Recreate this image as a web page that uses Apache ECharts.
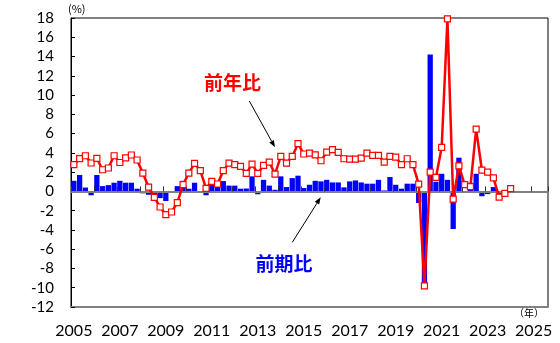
<!DOCTYPE html>
<html>
<head>
<meta charset="utf-8">
<script src="https://cdn.jsdelivr.net/npm/echarts@6/dist/echarts.min.js"></script>
<style>
html,body{margin:0;padding:0;background:#fff;}
#c{width:560px;height:343px;}
</style>
</head>
<body>
<div id="c"></div>
<script>
// Tick labels for the x axis (every 2 years)
const yearLabels = ['2005','2007','2009','2011','2013','2015','2017','2019','2021','2023','2025'];
const firstYear = 2005;
const quarterCount = 83; // 2005Q1 .. 2025Q3 (axis extent)

// 前年比 (year-on-year, %), 2005Q1 .. 2024Q1
const yoy = [
  2.77, 3.4, 3.7, 2.95, 3.43, 2.25, 2.43, 3.7,
  3.0, 3.47, 3.78, 3.26, 1.9, 0.45, -0.62, -1.62,
  -2.42, -2.14, -1.17, 0.7, 1.9, 2.9, 2.15, 0.31,
  1.04, 0.77, 2.15, 2.94, 2.77, 2.6, 1.87, 2.84,
  1.87, 2.7, 3.04, 1.8, 3.63, 2.94, 3.63, 4.95,
  3.88, 3.98, 3.8, 3.18, 4.08, 4.33, 4.05, 3.39,
  3.36, 3.36, 3.46, 3.98, 3.74, 3.74, 3.04, 3.63,
  3.56, 2.77, 3.39, 2.77, 0.76, -9.8, 2.0, 1.45,
  4.57, 17.9, -0.8, 2.66, 0.7, 0.5, 6.47, 2.2,
  2.0, 1.4, -0.59, -0.2, 0.28
];

// 前期比 (quarter-on-quarter, %), 2005Q1 ..
const qoq = [
  1.1, 1.7, 0.4, -0.4, 1.7, 0.55, 0.65, 0.9,
  1.1, 0.9, 0.9, 0.28, -0.2, -0.35, -0.5, -0.7,
  -1.0, -0.1, 0.55, 1.1, 0.28, 0.9, -0.15, -0.4,
  0.75, 0.75, 1.07, 0.6, 0.6, 0.28, 0.3, 1.56,
  -0.3, 1.2, 0.6, 0.17, 1.56, 0.45, 1.38, 1.63,
  0.35, 0.69, 1.1, 1.04, 1.2, 0.93, 0.93, 0.42,
  1.04, 1.14, 0.93, 0.8, 0.8, 1.2, 0.1, 1.49,
  0.69, 0.28, 0.8, 0.8, -1.2, -9.7, 14.2, 1.0,
  1.83, 1.2, -3.9, 3.5, -0.1, 0.9, 1.83, -0.5,
  -0.28, 0.45, -0.35
];

const categories = [];
for (let i = 0; i < quarterCount; i++) {
  categories.push((firstYear + Math.floor(i / 4)) + 'Q' + (i % 4 + 1));
}

function arrow(x1, y1, x2, y2) {
  const dx = x2 - x1, dy = y2 - y1;
  const len = Math.sqrt(dx * dx + dy * dy);
  const ux = dx / len, uy = dy / len;
  const hl = 7, hw = 2.6;
  const bx = x2 - ux * hl, by = y2 - uy * hl;
  return [
    { type: 'line', shape: { x1: x1, y1: y1, x2: bx, y2: by },
      style: { stroke: '#000', lineWidth: 1 }, z: 10 },
    { type: 'polygon', shape: { points: [[x2, y2], [bx - uy * hw, by + ux * hw], [bx + uy * hw, by - ux * hw]] },
      style: { fill: '#000' }, z: 10 }
  ];
}

const chart = echarts.init(document.getElementById('c'), null, { renderer: 'canvas' });
const option = {
  animation: false,
  backgroundColor: '#fff',
  grid: {
    left: 71, right: 12, top: 18, bottom: 36,
    show: true, borderColor: '#000', borderWidth: 1,
    outerBoundsMode: 'none'
  },
  xAxis: [
    {
      type: 'category',
      data: categories,
      position: 'bottom',
      boundaryGap: true,
      axisLine: { onZero: false, lineStyle: { color: '#808080', width: 2 } },
      axisTick: { show: false },
      axisLabel: {
        interval: 7,
        margin: 16,
        color: '#000',
        fontSize: 16,
        fontFamily: 'Lato, sans-serif',
        formatter: function (v, idx) { return yearLabels[idx / 8] || ''; }
      },
      splitLine: { show: false }
    },
    {
      type: 'category',
      data: categories,
      position: 'top',
      boundaryGap: true,
      z: 3,
      axisLine: { onZero: true, lineStyle: { color: '#808080', width: 2 } },
      axisTick: { show: true, interval: 3, length: 5, inside: false, lineStyle: { color: '#333', width: 1 } },
      axisLabel: { show: false },
      splitLine: { show: false }
    }
  ],
  yAxis: {
    type: 'value',
    min: -12, max: 18, interval: 2,
    axisLine: { show: true, lineStyle: { color: '#000', width: 1 } },
    axisTick: { show: true, inside: true, length: 4, lineStyle: { color: '#000' } },
    axisLabel: { color: '#000', fontSize: 15, margin: 17, fontFamily: 'Lato, sans-serif' },
    splitLine: { show: false }
  },
  series: [
    {
      name: '前期比',
      type: 'bar',
      data: qoq,
      barCategoryGap: '8%',
      itemStyle: { color: '#0000FF' },
      z: 2
    },
    {
      name: '前年比',
      type: 'line',
      data: yoy,
      symbol: 'rect',
      symbolSize: 6,
      showAllSymbol: true,
      lineStyle: { color: '#FF0000', width: 2.5 },
      itemStyle: { color: '#FFFFFF', borderColor: '#FF0000', borderWidth: 1.2 },
      z: 5
    }
  ],
  graphic: [
    { type: 'text', left: 68, top: 3, style: { text: '(%)', fontSize: 11, fill: '#000', fontFamily: 'Noto Sans CJK JP' } },
    { type: 'text', left: 514, top: 308, style: { text: '（年）', fontSize: 10, fill: '#000', fontFamily: 'Noto Sans CJK JP' } },
    { type: 'text', x: 232.5, y: 82.5, style: { text: '前年比', fontSize: 19, fontWeight: 'bold', fill: '#FF0000', fontFamily: 'Noto Sans CJK JP', align: 'center', verticalAlign: 'middle' }, z: 10 },
    { type: 'text', x: 284, y: 263.5, style: { text: '前期比', fontSize: 19, fontWeight: 'bold', fill: '#0000FF', fontFamily: 'Noto Sans CJK JP', align: 'center', verticalAlign: 'middle' }, z: 10 }
  ].concat(arrow(249.3, 101, 275, 147.3)).concat(arrow(292.3, 242.3, 320.7, 197.3))
};
chart.setOption(option);
</script>
</body>
</html>
